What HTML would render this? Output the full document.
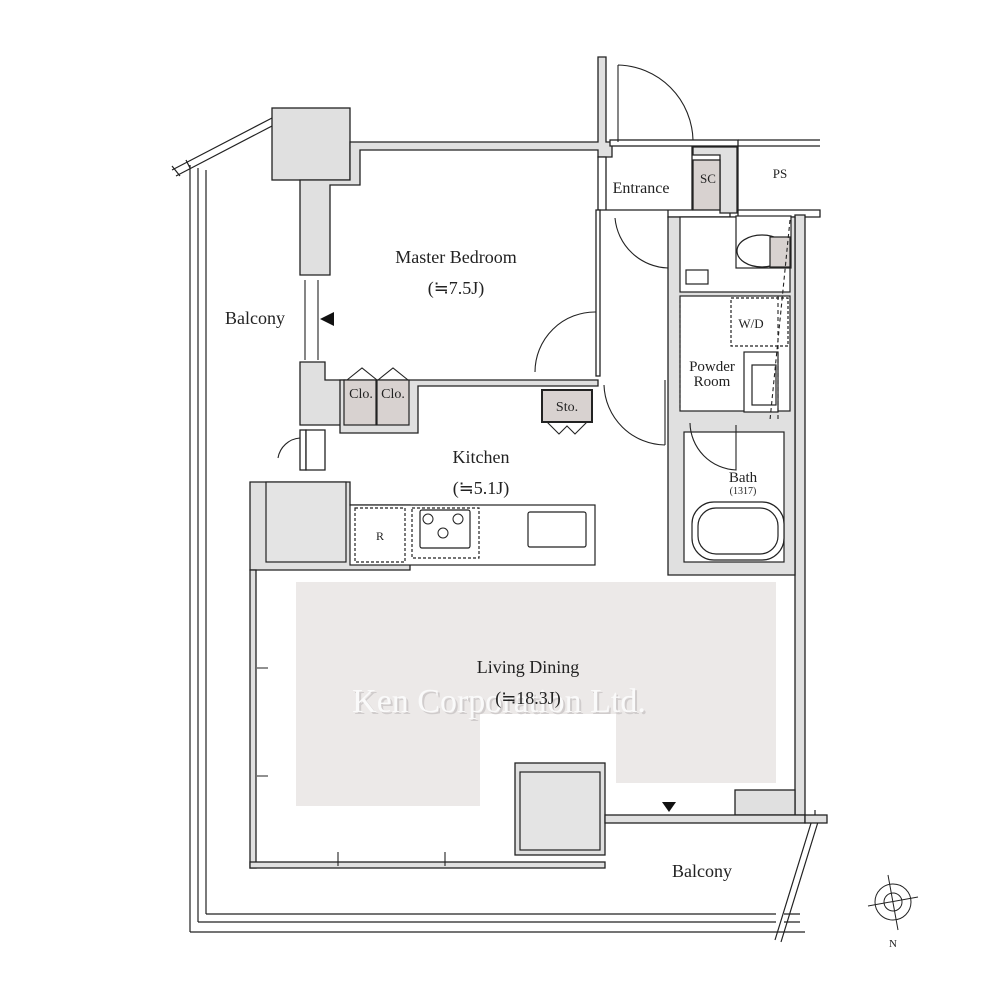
<!DOCTYPE html>
<html><head><meta charset="utf-8"><style>
html,body{margin:0;padding:0;background:#fff}
svg{display:block}
text{font-family:"Liberation Serif",serif;fill:#222}
</style></head><body>
<svg width="1000" height="1000" viewBox="0 0 1000 1000" xmlns="http://www.w3.org/2000/svg">
<g fill="none" stroke="#222" stroke-width="1.2">
<path d="M190 932 V165 M198 922 V168 M206 914 V170"/>
<path d="M190 932 H805 M198 922 H776 M206 914 H776"/>
<path d="M784 922 H800 M784 914 H800"/>
<path d="M172 170 L272 118 M176 176 L272 126"/>
<path d="M172 166 l8 10 M186 160 l4 8"/>
<path d="M775 940 L812 820 M781 942 L818 822"/>
<path d="M815 822 V810"/>
<path d="M738 140 H820 M738 146 H820"/>
</g>
<polygon points="296,582 776,582 776,783 616,783 616,714 480,714 480,806 296,806" fill="#ece9e8"/>
<g fill="#e0e0e0" stroke="#222" stroke-width="1.3">
<rect x="272" y="108" width="78" height="72"/>
<path d="M350 142 H598 V57 H606 V142 H612 V157 H598 V150 H360 V185 H330 V275 H300 V180 H350 Z"/>
<rect x="610" y="140" width="128" height="6" fill="#fff"/>
<path d="M692 147 H738 V210 H820 V217 H738 V210 H730 V217 H668 V210 H598 V157 H606 V210 H692 Z" fill="#fff"/>
<path d="M693 147 H737 V213 H720 V155 H693 Z"/>
<rect x="693" y="160" width="27" height="50" fill="#d8d2d0"/>
<rect x="596" y="210" width="4" height="166" fill="#fff"/>
<path d="M300 362 H325 V380 H345 V425 H300 Z"/>
<rect x="300" y="430" width="6" height="40" fill="#fff"/>
<path d="M306 430 H325 V470 H306 Z" fill="#fff"/>
<path d="M340 380 H598 V386 H418 V433 H340 Z"/>
<path d="M795 215 H805 V815 H795 Z"/>
<path d="M668 217 H795 V575 H668 Z"/>
<path d="M250 482 H350 V505 H410 V570 H270 V570 H250 Z"/>
<rect x="515" y="763" width="90" height="92"/>
<rect x="735" y="790" width="60" height="25"/>
<rect x="250" y="570" width="6" height="298"/>
<rect x="250" y="862" width="355" height="6"/>
<rect x="605" y="815" width="200" height="8"/>
<rect x="805" y="815" width="22" height="8"/>
</g>
<g fill="#fff" stroke="#222" stroke-width="1.2">
<rect x="680" y="217" width="110" height="75"/>
<rect x="680" y="296" width="110" height="115"/>
<rect x="684" y="432" width="100" height="130"/>
<rect x="266" y="482" width="80" height="80" fill="#e4e4e4"/>
<rect x="350" y="505" width="245" height="60"/>
<rect x="520" y="772" width="80" height="78" fill="#e4e4e4"/>
<rect x="355" y="508" width="50" height="54" stroke-dasharray="3,2"/>
<rect x="412" y="508" width="67" height="50" stroke-dasharray="3,2"/>
<rect x="420" y="510" width="50" height="38" rx="2"/>
<rect x="528" y="512" width="58" height="35" rx="2"/>
<rect x="736" y="216" width="55" height="52" fill="#fff"/>
<ellipse cx="762" cy="251" rx="25" ry="16"/>
<rect x="770" y="237" width="20" height="30" fill="#d8d2d0"/>
<rect x="686" y="270" width="22" height="14"/>
<rect x="731" y="298" width="57" height="48" stroke-dasharray="3,2"/>
<rect x="744" y="352" width="34" height="60"/>
<rect x="752" y="365" width="24" height="40"/>
<rect x="692" y="502" width="92" height="58" rx="22"/>
<rect x="698" y="508" width="80" height="46" rx="18"/>
<rect x="344" y="380" width="32" height="45" fill="#d8d2d0"/>
<rect x="377" y="380" width="32" height="45" fill="#d8d2d0"/>
<rect x="542" y="390" width="50" height="32" fill="#d8d2d0" stroke-width="2"/>
</g>
<g fill="none" stroke="#222" stroke-width="1.1">
<path d="M618 65 V142 M618 65 A77 77 0 0 1 693 140"/>
<path d="M615 218 A55 55 0 0 0 668 268"/>
<path d="M535 372 A60 60 0 0 1 596 312"/>
<path d="M604 385 A62 62 0 0 0 665 445 M665 380 V445"/>
<path d="M690 423 A48 48 0 0 0 736 470 V425"/>
<path d="M278 458 A24 24 0 0 1 300 438"/>
<path d="M347 380 l15 -12 l15 12 M378 380 l15 -12 l15 12"/>
<path d="M547 422 l12 12 l8 -8 l8 8 l12 -12"/>
<path d="M778 296 V420 M790 220 L770 420" stroke-dasharray="4,3"/>
<path d="M305 280 V360 M318 280 V360"/>
<path d="M257 668 H268 M257 776 H268 M338 852 V866 M445 852 V866"/>
<path d="M680 300 V410" stroke-dasharray="3,2"/>
</g>
<path d="M320 319 L334 312 L334 326 Z" fill="#111"/>
<path d="M662 802 H676 L669 812 Z" fill="#111"/>
<g fill="none" stroke="#222">
<circle cx="428" cy="519" r="5"/><circle cx="458" cy="519" r="5"/><circle cx="443" cy="533" r="5"/>
<circle cx="893" cy="902" r="18"/><circle cx="893" cy="902" r="9"/>
<path d="M888 875 L898 930 M868 906 L918 897"/>
</g>
<text x="501" y="714" font-size="34" text-anchor="middle" font-family="Liberation Sans" style="fill:#d0cccc">Ken Corporation Ltd.</text>
<text x="499" y="712" font-size="34" text-anchor="middle" font-family="Liberation Sans" style="fill:#fafafa">Ken Corporation Ltd.</text>
<g font-size="18" text-anchor="middle">
<text x="456" y="263">Master Bedroom</text>
<text x="456" y="294">(≒7.5J)</text>
<text x="481" y="463">Kitchen</text>
<text x="481" y="494">(≒5.1J)</text>
<text x="528" y="673">Living Dining</text>
<text x="528" y="704">(≒18.3J)</text>
<text x="255" y="324">Balcony</text>
<text x="702" y="877">Balcony</text>
<text x="641" y="193" font-size="16">Entrance</text>
<text x="712" y="371" font-size="15">Powder</text>
<text x="712" y="386" font-size="15">Room</text>
<text x="743" y="482" font-size="15">Bath</text>
</g>
<g font-size="13" text-anchor="middle">
<text x="708" y="183">SC</text>
<text x="780" y="178">PS</text>
<text x="751" y="328">W/D</text>
<text x="743" y="494" font-size="10">(1317)</text>
<text x="361" y="398" font-size="14">Clo.</text>
<text x="393" y="398" font-size="14">Clo.</text>
<text x="567" y="411" font-size="14">Sto.</text>
<text x="380" y="540" font-size="12">R</text>
<text x="893" y="947" font-size="11">N</text>
</g>
</svg>
</body></html>
